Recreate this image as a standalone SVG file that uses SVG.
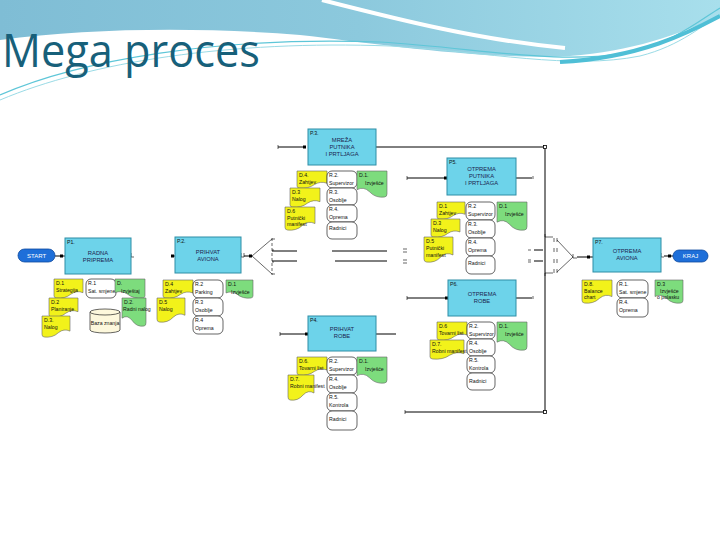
<svg xmlns="http://www.w3.org/2000/svg" xmlns:xlink="http://www.w3.org/1999/xlink" width="720" height="540" viewBox="0 0 720 540">
<defs>
<linearGradient id="hg" x1="0" y1="0" x2="1" y2="0">
<stop offset="0" stop-color="#7fbdd5"/><stop offset="0.5" stop-color="#8cc9dd"/><stop offset="1" stop-color="#a8dfec"/>
</linearGradient>
<path id="dy" d="M0,0H1V0.72Q0.78,0.58 0.58,0.8Q0.38,1.05 0.08,1Q0,0.99 0,0.88Z" style="vector-effect:non-scaling-stroke"/>
<path id="dg" d="M0,0H1V0.88Q1,0.99 0.92,1Q0.62,1.05 0.42,0.8Q0.22,0.58 0,0.72Z" style="vector-effect:non-scaling-stroke"/>
<style>
.pb{fill:#6dd3ea;stroke:#2f8ea6;stroke-width:1}
.t{font-family:"Liberation Sans",Arial,sans-serif;font-size:5.2px;fill:#111}
.pt{font-family:"Liberation Sans",Arial,sans-serif;font-size:5.8px;fill:#1c2450;text-anchor:middle}
.y{fill:#f2f21a;stroke:#666;stroke-width:0.6}
.g{fill:#7ddc7d;stroke:#666;stroke-width:0.6}
.r{fill:#fff;stroke:#222;stroke-width:0.7}
.ln{stroke:#000;stroke-width:1;fill:none}
.thin{stroke:#000;stroke-width:0.6;fill:none}
.port{fill:#000}
.op{fill:#fff;stroke:#000;stroke-width:0.8}
.pill{fill:#1e6fd9;stroke:#0e4aa0;stroke-width:0.8}
.pl{font-family:"Liberation Sans",Arial,sans-serif;font-size:6px;fill:#fff;text-anchor:middle}
</style>
</defs>
<rect width="720" height="540" fill="#fff"/>
<g id="header">
<path d="M0,0H720V16C680,34 630,52 570,56C480,60 380,44 300,35C200,27 90,28 0,40Z" fill="url(#hg)"/>
<path d="M322,0C400,20 480,40 565,48" stroke="#fff" stroke-width="4" fill="none"/>
<path d="M0,95C80,60 220,36 380,42C480,48 560,66 630,52C675,42 700,20 720,8" stroke="#5ec6d8" stroke-width="1.2" fill="none"/>
<path d="M0,100C90,62 230,40 390,46C490,52 570,70 640,56C680,46 705,24 720,14" stroke="#9adbe6" stroke-width="1" fill="none"/>
<path d="M560,62C640,58 690,32 720,16" stroke="#4fbfd6" stroke-width="4" fill="none"/>
<text x="2" y="67" font-family="'Open Sans','Liberation Sans',sans-serif" font-size="45" fill="#17607a" textLength="258" lengthAdjust="spacingAndGlyphs">Mega proces</text>
</g>

<g id="connectors">
<path class="ln" d="M55,256H65"/><rect class="port" x="60" y="254.5" width="3" height="3"/>
<path class="thin" d="M131,253V257H134"/>
<rect class="port" x="171" y="254.5" width="3" height="3"/><path class="ln" d="M171,256H175"/>
<path class="thin" d="M241,253V257H244V253"/>
<rect class="port" x="249" y="254.5" width="3" height="3"/><path class="ln" d="M244,256H252"/>
<path class="thin" d="M272,239L252,256L272,274"/>
<path class="thin" d="M272,238V275" stroke-dasharray="3,2"/>
<path class="thin" d="M272,239h3M272,250h2M272,262h2M272,274h3"/>
<path class="ln" d="M272,251H297M272,261H297M332,251H387M335,261H387"/>
<path class="thin" d="M403,249h4M403,252h4M403,260h4M403,263h4"/>
<path class="thin" d="M278,145v4"/><path class="ln" d="M278,147H306"/><rect class="port" x="303" y="145.5" width="3" height="3"/>
<path class="ln" d="M376,147H545V412H405"/>
<rect class="op" x="543.5" y="145.5" width="3" height="3"/><rect class="op" x="543.5" y="410.5" width="3" height="3"/>
<path class="thin" d="M405,410v4"/>
<path class="thin" d="M407,176v4"/><path class="ln" d="M407,178H447"/><rect class="port" x="444" y="176.5" width="3" height="3"/>
<path class="ln" d="M516,178H532"/><path class="thin" d="M533,176v3"/>
<path class="thin" d="M407,296v4"/><path class="ln" d="M407,298H448"/><rect class="port" x="445" y="296.5" width="3" height="3"/>
<path class="ln" d="M516,298H532"/><path class="thin" d="M533,296v3"/>
<path class="thin" d="M280,332v4"/><path class="ln" d="M280,334H308"/><rect class="port" x="305" y="332.5" width="3" height="3"/>
<path class="ln" d="M376,334H396"/>
<path class="thin" d="M528,250h3M528,260h3M528,262h3"/><path class="ln" d="M534,250H543M534,261H543"/>
<path class="thin" d="M545,234V237H553M545,276V273H553"/>
<path class="thin" d="M554,238v4M557,238v4M554,248v4M557,248v4M554,259v4M557,259v4M554,269v4M557,269v4"/>
<path class="thin" d="M557,240L573,257L557,272"/>
<path class="thin" d="M573,254V258H577"/>
<path class="ln" d="M577,257H593"/><rect class="port" x="587" y="255.5" width="3" height="3"/>
<path class="thin" d="M661,253V257H664"/><rect class="port" x="668" y="254.5" width="3" height="3"/><path class="ln" d="M664,256H673"/>
</g>

<g id="START"><rect class="pill" x="18" y="249" width="37" height="13" rx="6.5"/><text class="pl" x="36.5" y="257.8">START</text></g>
<g id="KRAJ"><rect class="pill" x="673" y="250" width="35" height="12" rx="6"/><text class="pl" x="690.5" y="258.3">KRAJ</text></g>

<g id="P1"><rect class="pb" x="65" y="238" width="66" height="36"/><text class="t" x="67" y="244">P1.</text><text class="pt" x="98" y="255">RADNA</text><text class="pt" x="98" y="262">PRIPREMA</text></g>
<g id="P1-items">
<use href="#dy" class="y" transform="translate(54,279) scale(29,19)"/><text class="t" x="56" y="285">D.1</text><text class="t" x="56" y="292">Strategija</text>
<use href="#dy" class="y" transform="translate(49,298) scale(29,19)"/><text class="t" x="51" y="304">D.2</text><text class="t" x="51" y="311">Planiranje</text>
<use href="#dy" class="y" transform="translate(42,316) scale(28,21)"/><text class="t" x="44" y="322">D.3.</text><text class="t" x="44" y="329">Nalog</text>
<rect class="r" x="86" y="279" width="30" height="19" rx="5"/><text class="t" x="88" y="285">R.1</text><text class="t" x="88" y="293">Sat. smjene</text>
<use href="#dg" class="g" transform="translate(115,279) scale(30,19)"/><text class="t" x="117" y="285">D.</text><text class="t" x="121" y="293">Izvještaj</text>
<use href="#dg" class="g" transform="translate(122,298) scale(24,28)"/><text class="t" x="124" y="304">D.2.</text><text class="t" x="123" y="311" font-size="4.8">Radni nalog</text>
<path d="M90,312V330A15,3 0 0 0 120,330V312Z" fill="#fdf8dc" stroke="#222" stroke-width="0.7"/><ellipse cx="105" cy="312" rx="15" ry="3" fill="#fdf8dc" stroke="#222" stroke-width="0.7"/><text class="t" x="105" y="325" text-anchor="middle">Baza znanja</text>
</g>

<g id="P2"><rect class="pb" x="175" y="237" width="66" height="36"/><text class="t" x="177" y="243">P.2.</text><text class="pt" x="208" y="254">PRIHVAT</text><text class="pt" x="208" y="261">AVIONA</text></g>
<g id="P2-items">
<use href="#dy" class="y" transform="translate(163,280) scale(30,18)"/><text class="t" x="165" y="286">D.4</text><text class="t" x="165" y="293">Zahtjev</text>
<use href="#dy" class="y" transform="translate(157,298) scale(28,24)"/><text class="t" x="159" y="304">D.5</text><text class="t" x="159" y="311">Nalog</text>
<rect class="r" x="193" y="280" width="30" height="18" rx="5"/><text class="t" x="195" y="286">R.2</text><text class="t" x="195" y="294">Parking</text>
<rect class="r" x="193" y="298" width="30" height="18" rx="5"/><text class="t" x="195" y="304">R.3</text><text class="t" x="195" y="312">Osoblje</text>
<rect class="r" x="193" y="316" width="30" height="18" rx="5"/><text class="t" x="195" y="322">R.4</text><text class="t" x="195" y="330">Oprema</text>
<use href="#dg" class="g" transform="translate(226,280) scale(27,18)"/><text class="t" x="228" y="286">D.1</text><text class="t" x="231" y="294">Izvješće</text>
</g>

<g id="P3"><rect class="pb" x="308" y="129" width="68" height="36"/><text class="t" x="310" y="135">P.3.</text><text class="pt" x="342" y="142">MREŽA</text><text class="pt" x="342" y="149">PUTNIKA</text><text class="pt" x="342" y="156">I PRTLJAGA</text></g>
<g id="P3-items">
<use href="#dy" class="y" transform="translate(297,171) scale(30,17)"/><text class="t" x="299" y="177">D.4.</text><text class="t" x="299" y="184">Zahtjev</text>
<use href="#dy" class="y" transform="translate(290,188) scale(30,19)"/><text class="t" x="292" y="194">D.3</text><text class="t" x="292" y="201">Nalog</text>
<use href="#dy" class="y" transform="translate(285,207) scale(30,23)"/><text class="t" x="287" y="213">D.6</text><text class="t" x="287" y="220">Putnički</text><text class="t" x="287" y="226">manifest</text>
<rect class="r" x="327" y="171" width="30" height="17" rx="5"/><text class="t" x="329" y="177">R.2.</text><text class="t" x="329" y="185">Supervizor</text>
<rect class="r" x="327" y="188" width="30" height="17" rx="5"/><text class="t" x="329" y="194">R.3.</text><text class="t" x="329" y="202">Osoblje</text>
<rect class="r" x="327" y="205" width="30" height="17" rx="5"/><text class="t" x="329" y="211">R.4.</text><text class="t" x="329" y="219">Oprema</text>
<rect class="r" x="327" y="222" width="30" height="17" rx="5"/><text class="t" x="329" y="230">Radnici</text>
<use href="#dg" class="g" transform="translate(357,171) scale(30,26)"/><text class="t" x="359" y="177">D.1.</text><text class="t" x="365" y="185">Izvješće</text>
</g>

<g id="P5"><rect class="pb" x="447" y="158" width="69" height="37"/><text class="t" x="449" y="164">P5.</text><text class="pt" x="481.5" y="171">OTPREMA</text><text class="pt" x="481.5" y="178">PUTNIKA</text><text class="pt" x="481.5" y="185">I PRTLJAGA</text></g>
<g id="P5-items">
<use href="#dy" class="y" transform="translate(437,202) scale(28,17)"/><text class="t" x="439" y="208">D.1</text><text class="t" x="439" y="215">Zahtjev</text>
<use href="#dy" class="y" transform="translate(431,219) scale(29,18)"/><text class="t" x="433" y="225">D.3</text><text class="t" x="433" y="232">Nalog</text>
<use href="#dy" class="y" transform="translate(424,237) scale(29,25)"/><text class="t" x="426" y="243">D.5</text><text class="t" x="426" y="250">Putnički</text><text class="t" x="426" y="257">manifest</text>
<rect class="r" x="466" y="202" width="29" height="18" rx="5"/><text class="t" x="468" y="208">R.2</text><text class="t" x="468" y="216">Supervizor</text>
<rect class="r" x="466" y="220" width="29" height="18" rx="5"/><text class="t" x="468" y="226">R.3.</text><text class="t" x="468" y="234">Osoblje</text>
<rect class="r" x="466" y="238" width="29" height="18" rx="5"/><text class="t" x="468" y="244">R.4.</text><text class="t" x="468" y="252">Oprema</text>
<rect class="r" x="466" y="256" width="29" height="18" rx="5"/><text class="t" x="468" y="265">Radnici</text>
<use href="#dg" class="g" transform="translate(497,202) scale(30,28)"/><text class="t" x="499" y="208">D.1</text><text class="t" x="505" y="216">Izvješće</text>
</g>

<g id="P6"><rect class="pb" x="448" y="280" width="68" height="36"/><text class="t" x="450" y="286">P6.</text><text class="pt" x="482" y="296">OTPREMA</text><text class="pt" x="482" y="303">ROBE</text></g>
<g id="P6-items">
<use href="#dy" class="y" transform="translate(437,322) scale(30,18)"/><text class="t" x="439" y="328">D.6</text><text class="t" x="439" y="335">Tovarni list</text>
<use href="#dy" class="y" transform="translate(430,340) scale(34,19)"/><text class="t" x="432" y="346">D.7.</text><text class="t" x="432" y="353">Robni manifest</text>
<rect class="r" x="467" y="322" width="28" height="17" rx="5"/><text class="t" x="469" y="328">R.2.</text><text class="t" x="469" y="336">Supervizor</text>
<rect class="r" x="467" y="339" width="28" height="17" rx="5"/><text class="t" x="469" y="345">R.4.</text><text class="t" x="469" y="353">Osoblje</text>
<rect class="r" x="467" y="356" width="28" height="17" rx="5"/><text class="t" x="469" y="362">R.5.</text><text class="t" x="469" y="370">Kontrola</text>
<rect class="r" x="467" y="373" width="28" height="17" rx="5"/><text class="t" x="469" y="383">Radnici</text>
<use href="#dg" class="g" transform="translate(497,322) scale(30,28)"/><text class="t" x="499" y="328">D.1.</text><text class="t" x="505" y="336">Izvješće</text>
</g>

<g id="P4"><rect class="pb" x="308" y="316" width="68" height="35"/><text class="t" x="310" y="322">P4.</text><text class="pt" x="342" y="331">PRIHVAT</text><text class="pt" x="342" y="338">ROBE</text></g>
<g id="P4-items">
<use href="#dy" class="y" transform="translate(297,357) scale(30,18)"/><text class="t" x="299" y="363">D.6.</text><text class="t" x="299" y="370">Tovarni list</text>
<use href="#dy" class="y" transform="translate(288,375) scale(26,25)"/><text class="t" x="290" y="381">D.7.</text><text class="t" x="290" y="388">Robni manifest</text>
<rect class="r" x="327" y="357" width="30" height="18" rx="5"/><text class="t" x="329" y="363">R.2.</text><text class="t" x="329" y="371">Supervizor</text>
<rect class="r" x="327" y="375" width="30" height="18" rx="5"/><text class="t" x="329" y="381">R.4.</text><text class="t" x="329" y="389">Osoblje</text>
<rect class="r" x="327" y="393" width="30" height="18" rx="5"/><text class="t" x="329" y="399">R.5.</text><text class="t" x="329" y="407">Kontrola</text>
<rect class="r" x="327" y="411" width="30" height="19" rx="5"/><text class="t" x="329" y="421">Radnici</text>
<use href="#dg" class="g" transform="translate(357,357) scale(30,26)"/><text class="t" x="359" y="363">D.1.</text><text class="t" x="365" y="371">Izvješće</text>
</g>

<g id="P7"><rect class="pb" x="593" y="238" width="68" height="34"/><text class="t" x="595" y="244">P7.</text><text class="pt" x="627" y="253">OTPREMA</text><text class="pt" x="627" y="260">AVIONA</text></g>
<g id="P7-items">
<use href="#dy" class="y" transform="translate(582,280) scale(30,23)"/><text class="t" x="584" y="286">D.8.</text><text class="t" x="584" y="293">Balance</text><text class="t" x="584" y="299">chart</text>
<rect class="r" x="617" y="280" width="31" height="18" rx="5"/><text class="t" x="619" y="286">R.1.</text><text class="t" x="619" y="294">Sat. smjene</text>
<rect class="r" x="617" y="298" width="31" height="19" rx="5"/><text class="t" x="619" y="304">R.4.</text><text class="t" x="619" y="312">Oprema</text>
<use href="#dg" class="g" transform="translate(655,280) scale(28,23)"/><text class="t" x="657" y="286">D.3</text><text class="t" x="660" y="293">Izvješće</text><text class="t" x="657" y="299">o polasku</text>
</g>
</svg>
